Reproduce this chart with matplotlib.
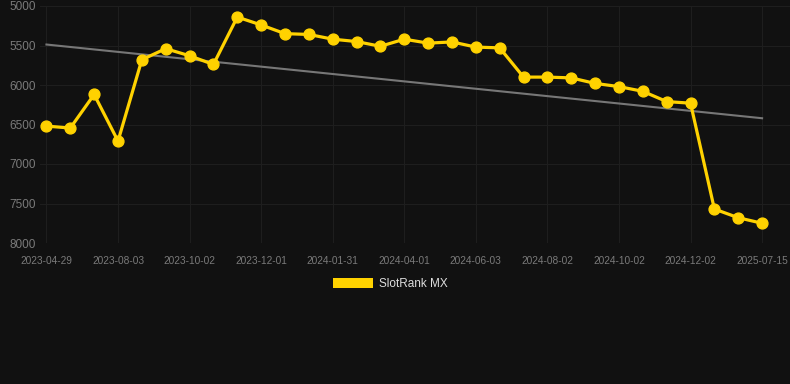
import numpy as np
import matplotlib.pyplot as plt
from matplotlib.patches import Patch

# SlotRank MX rank over time (lower is better, so the axis is inverted)
tick_labels = ['2023-04-29', '2023-08-03', '2023-10-02', '2023-12-01', '2024-01-31',
               '2024-04-01', '2024-06-03', '2024-08-02', '2024-10-02', '2024-12-02',
               '2025-07-15']
rank = [6520, 6545, 6120, 6710, 5680, 5540, 5630, 5740, 5140, 5240,
        5350, 5360, 5420, 5450, 5510, 5420, 5470, 5455, 5520, 5530,
        5900, 5900, 5910, 5980, 6020, 6080, 6210, 6230, 7570, 7680,
        7750]
y_ticks = [5000, 5500, 6000, 6500, 7000, 7500, 8000]

bg = '#111111'
x = np.arange(len(rank))

# Linear trend line
coef = np.polyfit(x, rank, 1)
trend = np.polyval(coef, x)

plt.rcParams['font.family'] = ['Liberation Sans', 'DejaVu Sans']
fig = plt.figure(figsize=(7.9, 3.84), dpi=100, facecolor=bg)
ax = fig.add_axes([40 / 790, (384 - 243) / 384, 750 / 790, 237 / 384], facecolor=bg)

ax.plot(x, trend, color='#777777', lw=1.5, zorder=2)
ax.plot(x, rank, color='#ffd200', lw=2.3, marker='o', markersize=7.8, zorder=3)

ax.set_ylim(8000, 5000)
ax.set_yticks(y_ticks)
ax.set_xlim(-0.27, 31.17)
ax.set_xticks(x[::3])
ax.set_xticklabels(tick_labels)

ax.grid(True, color='#1e1e1e', lw=0.8)
ax.set_axisbelow(True)
for s in ax.spines.values():
    s.set_visible(False)
ax.tick_params(axis='x', colors='#7a7a7a', labelsize=7.3, length=0, pad=9)
ax.tick_params(axis='y', colors='#7a7a7a', labelsize=8.5, length=0, pad=3)

handle = Patch(facecolor='#ffd200', edgecolor='none')
fig.legend([handle], ['SlotRank MX'], loc='center', bbox_to_anchor=(390 / 790, 1 - 284 / 384),
           frameon=False, labelcolor='#dddddd', fontsize=8.5,
           handlelength=3.4, handleheight=0.9, handletextpad=0.5)

fig.savefig('out.png', dpi=100, facecolor=bg)
